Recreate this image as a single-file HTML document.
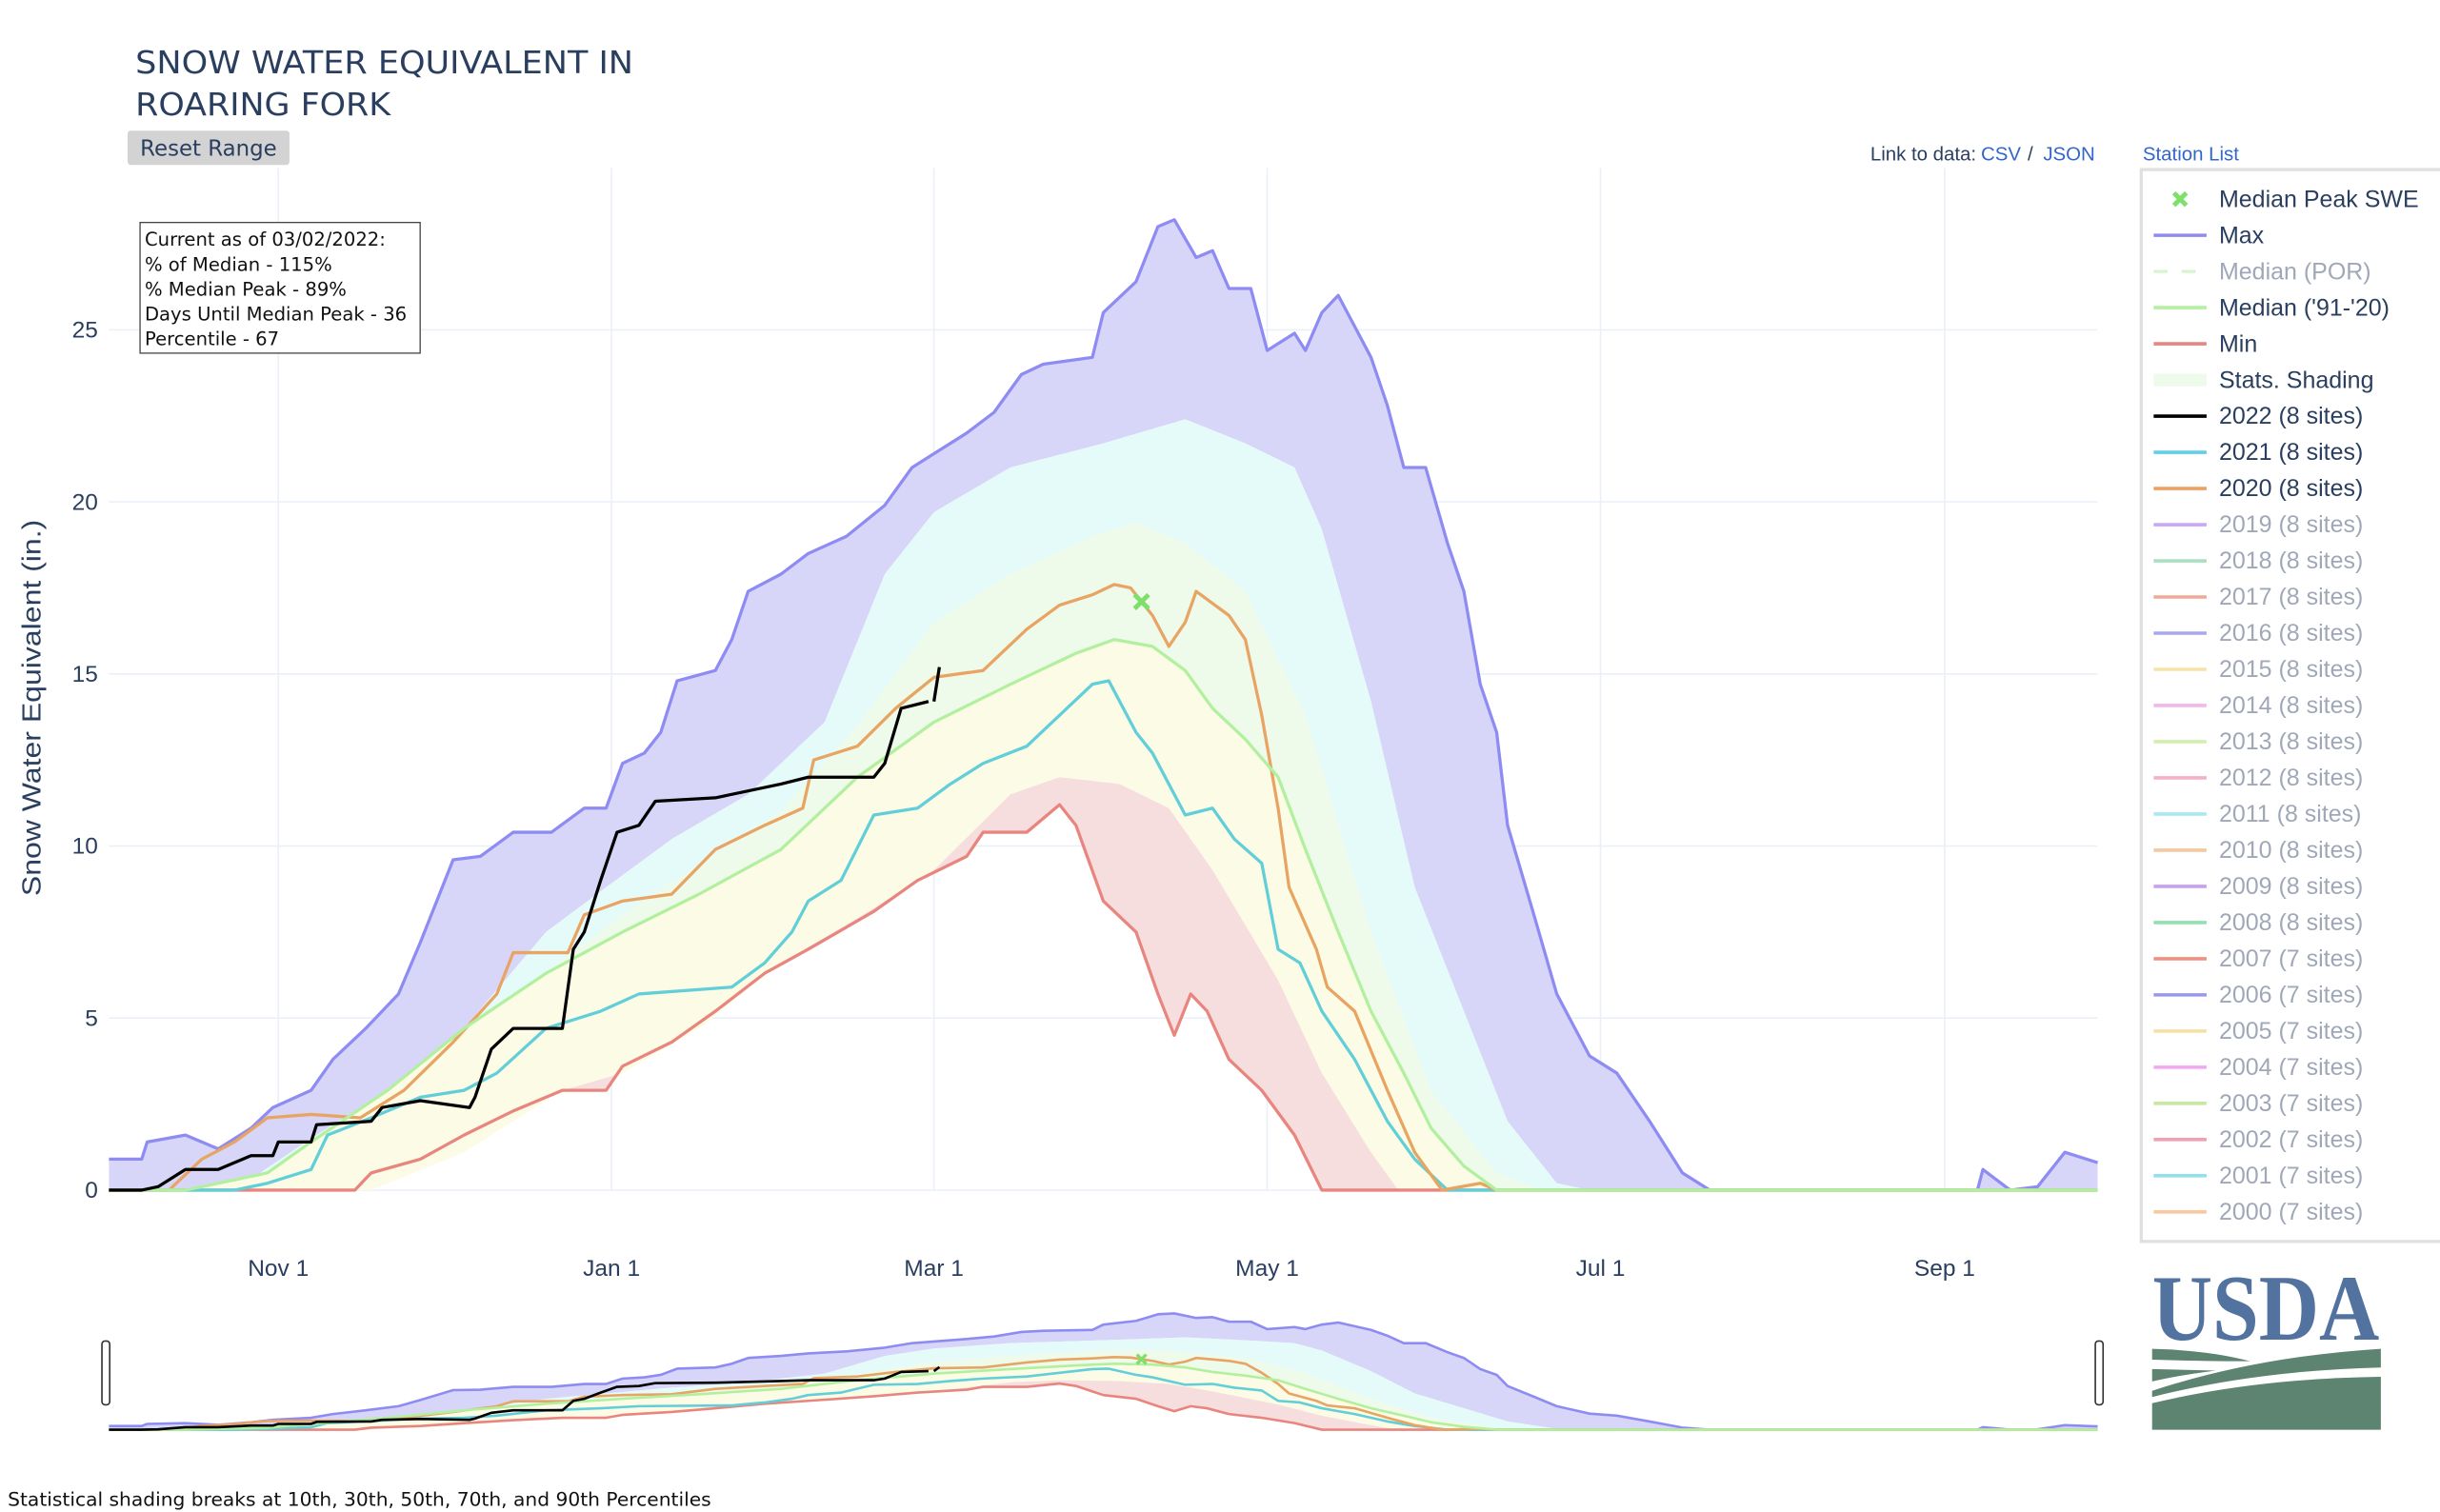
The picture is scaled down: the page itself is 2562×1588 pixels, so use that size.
<!DOCTYPE html>
<html><head><meta charset="utf-8"><style>
html,body{margin:0;padding:0;background:#fff;}
svg{display:block;font-family:"Liberation Sans",sans-serif;}
</style></head><body>
<svg id="chart" width="2562" height="1588" viewBox="0 0 1568 971.9" xmlns="http://www.w3.org/2000/svg">
<g id="grid"></g>
<g id="bands"></g>
<g id="lines"></g>
<g id="axes"></g>
<g id="mini"></g>
<text x="87" y="47" font-size="20" font-family="DejaVu Sans, sans-serif" fill="#2a3f5f" textLength="320" lengthAdjust="spacingAndGlyphs">SNOW WATER EQUIVALENT IN</text>
<text x="87" y="74" font-size="20" font-family="DejaVu Sans, sans-serif" fill="#2a3f5f" textLength="164" lengthAdjust="spacingAndGlyphs">ROARING FORK</text>
<g>
<rect x="82" y="84" width="104" height="22" rx="2" fill="#d3d3d3"/>
<text x="134" y="100" font-size="14" font-family="DejaVu Sans, sans-serif" fill="#2a3f5f" text-anchor="middle">Reset Range</text>
</g>
<text x="1270" y="103" font-size="12.5" fill="#2a3f5f" text-anchor="end">Link to data:</text>
<text x="1273" y="103" font-size="12.5" fill="#3366cc">CSV</text>
<text x="1303" y="103" font-size="12.5" fill="#2a3f5f">/</text>
<text x="1313" y="103" font-size="12.5" fill="#3366cc">JSON</text>
<text x="1377" y="103" font-size="12.5" fill="#3366cc">Station List</text>
<g font-family="DejaVu Sans, sans-serif">
<rect x="90" y="143" width="180" height="84" fill="#fff" stroke="#444" stroke-width="0.8"/>
<text x="93" y="158" font-size="12" fill="#111">Current as of 03/02/2022:</text>
<text x="93" y="174" font-size="12" fill="#111">% of Median - 115%</text>
<text x="93" y="190" font-size="12" fill="#111">% Median Peak - 89%</text>
<text x="93" y="206" font-size="12" fill="#111">Days Until Median Peak - 36</text>
<text x="93" y="222" font-size="12" fill="#111">Percentile - 67</text>
</g>
<g id="legend"></g>
<g>
<text x="1456" y="861" font-family="Liberation Serif, serif" font-weight="bold" font-size="60" fill="#52739f" text-anchor="middle" textLength="146" lengthAdjust="spacingAndGlyphs">USDA</text>
<path d="M1383 919 L1530 919 L1530 885 Q1450 886 1383 902 Z" fill="#5d8470"/>
<path d="M1383 894 Q1450 872 1530 867 L1530 879 Q1450 881 1383 898 Z" fill="#5d8470"/>
<path d="M1383 867 Q1420 868 1446 875 Q1420 875 1383 874 Z" fill="#5d8470"/>
<path d="M1383 880 L1424 881 Q1400 884 1383 888 Z" fill="#5d8470"/>
</g>
<text x="5" y="968" font-size="12" font-family="DejaVu Sans, sans-serif" fill="#111" textLength="452" lengthAdjust="spacingAndGlyphs">Statistical shading breaks at 10th, 30th, 50th, 70th, and 90th Percentiles</text>
<text transform="translate(26,455) rotate(-90)" font-size="17" fill="#2a3f5f" text-anchor="middle" textLength="242" lengthAdjust="spacingAndGlyphs">Snow Water Equivalent (in.)</text>
</svg>
<script>
const maxDays=[0,6,7,14,20,26,30,37,41,47,53,57,63,68,74,81,87,91,94,98,101,104,111,114,117,123,128,135,142,147,151,157,162,167,171,180,182,188,192,195,199,202,205,209,212,217,219,222,225,228,231,234,237,241,245,248,251,254,256,261,265,271,276,282,288,293,342,343,348,353,358,362,364];
const maxVals=[0.9,0.9,1.4,1.6,1.2,1.8,2.4,2.9,3.8,4.7,5.7,7.2,9.6,9.7,10.4,10.4,11.1,11.1,12.4,12.7,13.3,14.8,15.1,16.0,17.4,17.9,18.5,19.0,19.9,21.0,21.4,22.0,22.6,23.7,24.0,24.2,25.5,26.4,28.0,28.2,27.1,27.3,26.2,26.2,24.4,24.9,24.4,25.5,26.0,25.1,24.2,22.8,21.0,21.0,18.8,17.4,14.7,13.3,10.6,7.9,5.7,3.9,3.4,2.0,0.5,0,0,0.6,0,0.1,1.1,0.9,0.8];
const p90Days=[0,23,37,54,65,80,91,103,117,131,142,151,165,182,197,208,217,222,231,239,248,256,265,271,364];
const p90Vals=[0,0,1.5,3.2,4.7,7.5,8.8,10.2,11.5,13.6,17.9,19.7,21.0,21.7,22.4,21.7,21.0,19.2,14.2,8.8,5.2,2.0,0.2,0,0];
const p70Days=[0,30,37,65,94,123,137,151,165,180,188,197,208,219,231,242,254,262,364];
const p70Vals=[0,0,1.0,4.5,8.0,11.0,13.5,16.5,17.9,19.0,19.4,18.8,17.4,13.8,7.5,2.9,0.5,0,0];
const medDays=[0,14,29,37,51,65,80,94,108,123,137,151,165,177,184,191,197,202,208,214,219,225,231,237,242,248,254,364];
const medVals=[0,0,0.5,1.4,2.9,4.7,6.3,7.5,8.6,9.9,12.0,13.6,14.7,15.6,16.0,15.8,15.1,14.0,13.1,12.0,9.9,7.5,5.2,3.4,1.8,0.7,0,0];
const p10Days=[0,48,65,83,94,108,123,137,151,165,174,185,194,202,214,222,231,236,364];
const p10Vals=[0,0,1.1,2.9,3.4,4.7,6.6,7.9,9.3,11.5,12.0,11.8,11.1,9.3,6.1,3.4,1.1,0,0];
const minDays=[0,45,48,57,65,74,83,91,94,103,111,120,128,140,148,157,160,168,174,177,182,188,192,195,198,201,205,211,217,222,364];
const minVals=[0,0,0.5,0.9,1.6,2.3,2.9,2.9,3.6,4.3,5.2,6.3,7.0,8.1,9.0,9.7,10.4,10.4,11.2,10.6,8.4,7.5,5.7,4.5,5.7,5.2,3.8,2.9,1.6,0,0];
const y2022Days=[0,6,9,14,20,23,26,30,31,37,38,48,50,57,66,67,70,74,83,85,87,90,93,97,100,111,123,128,140,142,145,150];
const y2022Vals=[0,0,0.1,0.6,0.6,0.8,1.0,1.0,1.4,1.4,1.9,2.0,2.4,2.6,2.4,2.7,4.1,4.7,4.7,7.0,7.5,9.0,10.4,10.6,11.3,11.4,11.8,12.0,12.0,12.4,14.0,14.2];
const y2022bDays=[151,152];
const y2022bVals=[14.2,15.2];
const y2020Days=[0,11,17,23,29,37,46,54,63,71,74,84,87,94,103,111,120,127,129,137,144,151,160,168,174,180,184,187,191,194,197,199,205,208,211,214,216,221,223,228,234,239,244,251,254,364];
const y2020Vals=[0,0,0.9,1.4,2.1,2.2,2.1,2.9,4.3,5.7,6.9,6.9,8.0,8.4,8.6,9.9,10.6,11.1,12.5,12.9,14.0,14.9,15.1,16.3,17.0,17.3,17.6,17.5,16.7,15.8,16.5,17.4,16.7,16.0,13.8,11.1,8.8,7.0,5.9,5.2,2.9,1.1,0,0.2,0,0];
const y2021Days=[0,23,29,37,40,48,57,65,71,80,90,97,114,120,125,128,134,140,148,154,160,168,174,180,183,188,191,197,202,206,211,214,218,222,228,234,239,245,364];
const y2021Vals=[0,0,0.2,0.6,1.6,2.1,2.7,2.9,3.4,4.7,5.2,5.7,5.9,6.6,7.5,8.4,9.0,10.9,11.1,11.8,12.4,12.9,13.8,14.7,14.8,13.3,12.7,10.9,11.1,10.2,9.5,7.0,6.6,5.2,3.8,2.0,0.9,0,0];
const peakDay=[189];
const peakVal=[17.1];
const yTicks=[0,5,10,15,20,25];
const xTickDays=[31,92,151,212,273,336];
const xTickLabels=["Nov  1","Jan  1","Mar  1","May  1","Jul  1","Sep  1"];
const legendLabels=["Median Peak SWE","Max","Median (POR)","Median ('91-'20)","Min","Stats. Shading","2022 (8 sites)","2021 (8 sites)","2020 (8 sites)","2019 (8 sites)","2018 (8 sites)","2017 (8 sites)","2016 (8 sites)","2015 (8 sites)","2014 (8 sites)","2013 (8 sites)","2012 (8 sites)","2011 (8 sites)","2010 (8 sites)","2009 (8 sites)","2008 (8 sites)","2007 (7 sites)","2006 (7 sites)","2005 (7 sites)","2004 (7 sites)","2003 (7 sites)","2002 (7 sites)","2001 (7 sites)","2000 (7 sites)"];
const legendColors=["#7ee06a","#8e8cf2","#d6f5cf","#b2f0a0","#e8857f","#eefaea","#000000","#5fcfe9","#eea060","#c8a8f5","#a8e0c0","#f0a898","#a8a8f2","#f7e4a8","#f0b8ec","#d4eeb0","#f5b0c8","#a8e8f0","#f5c8a0","#c8a0f0","#90e0b0","#f09080","#9898f0","#f5e0a0","#f0a8f0","#c8e8a0","#f0a0b0","#90e0f0","#f8c8a0"];
const legendActive=[1,1,0,1,1,1,1,1,1,0,0,0,0,0,0,0,0,0,0,0,0,0,0,0,0,0,0,0,0];

const NS="http://www.w3.org/2000/svg";
const X0=70,X1=1348,DAYS=364;
function xS(d){return X0+d*(X1-X0)/DAYS;}
function yS(v){return 765-v*22.12;}
function yM(v){return 919-v*2.65;}
function mk(tag,attrs,parent){const e=document.createElementNS(NS,tag);for(const k in attrs)e.setAttribute(k,attrs[k]);parent.appendChild(e);return e;}
function interp(days,vals,d){if(d<=days[0])return vals[0];for(let i=1;i<days.length;i++){if(d<=days[i]){const t=(d-days[i-1])/(days[i]-days[i-1]);return vals[i-1]+t*(vals[i]-vals[i-1]);}}return vals[vals.length-1];}
function pathOf(days,vals,ys){return days.map((d,i)=>(i?"L":"M")+xS(d).toFixed(2)+" "+ys(vals[i]).toFixed(2)).join(" ");}
function band(loD,loV,hiD,hiV,ys,color,parent,name){
  let top=[],bot=[];
  for(let d=0;d<=DAYS;d++){const lo=interp(loD,loV,d);const hi=Math.max(lo,interp(hiD,hiV,d));top.push(xS(d).toFixed(2)+" "+ys(hi).toFixed(2));bot.push(xS(d).toFixed(2)+" "+ys(lo).toFixed(2));}
  const p=mk("path",{d:"M"+top.join(" L")+" L"+bot.reverse().join(" L")+" Z",fill:color},parent);
  
  
}
function drawAll(ys,bandsG,linesG,lw,isMini){
  band(p90Days,p90Vals,maxDays,maxVals,ys,"#d8d6f8",bandsG,"band-p90-max");
  band(p70Days,p70Vals,p90Days,p90Vals,ys,"#e5fbf9",bandsG,"band-p70-p90");
  band(medDays,medVals,p70Days,p70Vals,ys,"#eefaea",bandsG,"band-p50-p70");
  band(p10Days,p10Vals,medDays,medVals,ys,"#fcfce6",bandsG,"band-p10-p50");
  band(minDays,minVals,p10Days,p10Vals,ys,"#f7dede",bandsG,"band-min-p10");
  const series=[[maxDays,maxVals,"#8e8cf2","max-line"],[minDays,minVals,"#e8857f","min-line"],[y2021Days,y2021Vals,"#62cfd8","line-2021"],[y2020Days,y2020Vals,"#e8a462","line-2020"],[medDays,medVals,"#b2f0a0","median-line"],[y2022Days,y2022Vals,"#000","line-2022"],[y2022bDays,y2022bVals,"#000","line-2022-latest"]];
  series.forEach(s=>{
    const p=mk("path",{d:pathOf(s[0],s[1],ys),fill:"none",stroke:s[2],"stroke-width":lw,"stroke-linejoin":"round"},linesG);
    
    
  });
  const px=xS(peakDay[0]),py=ys(peakVal[0]),r=isMini?3:4.5;
  const m=mk("path",{d:`M${px-r} ${py-r}L${px+r} ${py+r}M${px+r} ${py-r}L${px-r} ${py+r}`,stroke:"#7ee06a","stroke-width":isMini?2:3},linesG);
  
  
}
const grid=document.getElementById("grid"),axes=document.getElementById("axes");
xTickDays.forEach((d,i)=>{
  const l=mk("line",{x1:xS(d),x2:xS(d),y1:108,y2:765,stroke:"#ebf0f8","stroke-width":1},grid);
  
  
  const t=mk("text",{x:xS(d),y:820,"font-size":15,fill:"#2a3f5f","text-anchor":"middle","xml:space":"preserve"},axes);
  t.textContent=xTickLabels[i];
  
  
});
yTicks.forEach(v=>{
  const l=mk("line",{x1:X0,x2:X1,y1:yS(v),y2:yS(v),stroke:"#ebf0f8","stroke-width":1},grid);
  
  
  const t=mk("text",{x:63,y:yS(v)+5,"font-size":15,fill:"#2a3f5f","text-anchor":"end"},axes);
  t.textContent=v;
  
  
});
drawAll(yS,document.getElementById("bands"),document.getElementById("lines"),2,false);
const mini=document.getElementById("mini");
mk("rect",{x:X0,y:835,width:X1-X0,height:85,fill:"#fff"},mini);
const mb=mk("g",{},mini),ml=mk("g",{},mini);
drawAll(yM,mb,ml,1.6,true);
[X0-2,X1+1].forEach(x=>{
  const h=mk("rect",{x:x-2.5,y:862,width:5,height:41,rx:2,fill:"#fff",stroke:"#333","stroke-width":1},mini);
  
  
});
const lg=document.getElementById("legend");
mk("rect",{x:1376,y:109,width:200,height:689,fill:"#fff",stroke:"#e0e0e0","stroke-width":2},lg);
legendLabels.forEach((lab,i)=>{
  const y=128+i*23.25;
  const g=mk("g",{},lg);
  
  
  const c=legendColors[i];
  if(i===0){mk("path",{d:`M1397 ${y-4}L1405 ${y+4}M1405 ${y-4}L1397 ${y+4}`,stroke:c,"stroke-width":3},g);}
  else if(i===2){mk("line",{x1:1384,x2:1418,y1:y,y2:y,stroke:c,"stroke-width":2,"stroke-dasharray":"9,9"},g);}
  else if(i===5){mk("rect",{x:1384,y:y-4,width:34,height:8,fill:c},g);}
  else{mk("line",{x1:1384,x2:1418,y1:y,y2:y,stroke:c,"stroke-width":2.2},g);}
  const t=mk("text",{x:1426,y:y+5,"font-size":15.3,fill:legendActive[i]?"#2a3f5f":"#a0a8b8"},g);
  t.textContent=lab;
});
</script>
</body></html>
